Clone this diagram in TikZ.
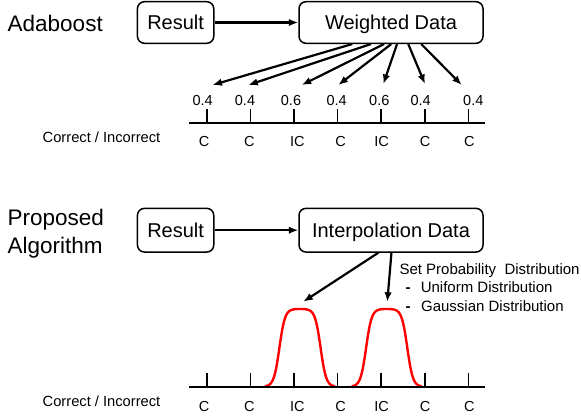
\documentclass[tikz,border=0pt]{standalone}
\usepackage{fontspec}
\setmainfont{Liberation Sans}
\usetikzlibrary{arrows.meta,calc}
\begin{document}
\begin{tikzpicture}[x=1pt,y=-1pt,
  box/.style={draw, line width=1.5pt, rounded corners=7pt, inner sep=0pt,
    font=\fontsize{20}{24}\selectfont, text height=14.3pt, text depth=0pt},
  arr/.style={line width=2.2pt, -{Latex[length=9.5pt,width=7.5pt]}},
  big/.style={font=\fontsize{22.5}{27}\selectfont, anchor=base west, inner sep=0pt},
  small/.style={font=\fontsize{14.5}{17}\selectfont, anchor=base, inner sep=0pt},
  lbl/.style={font=\fontsize{14.7}{17}\selectfont, anchor=base west, inner sep=0pt},
  dist/.style={font=\fontsize{15}{18}\selectfont, anchor=base west, inner sep=0pt},
  axisline/.style={line width=2pt},
  tickline/.style={line width=1.6pt},
  curve/.style={draw=red, line width=2.4pt}
]
\useasboundingbox (0,0) rectangle (581,418);

% ---------- Adaboost ----------
\node[big] (ada) at (7.5,31) {Adaboost};
\node[box, minimum width=76.3pt, minimum height=41.6pt] (r1) at (175.6,22.5) {Result};
\node[box, minimum width=184pt, minimum height=41.6pt] (w1) at (391,22.5) {Weighted Data};
\draw[arr] (r1) -- (w1);

\foreach \i/\vx/\v in {1/202.7/0.4, 2/245/0.4, 3/291/0.6, 4/336.7/0.4, 5/379.3/0.6, 6/420.7/0.4, 7/473.3/0.4}
  \node[small] (v\i) at (\vx,105) {\v};

\foreach \i/\sx/\tx/\ty in {1/54/212.5/85, 2/72.7/248.3/85, 3/85.8/301.7/85, 4/93/338.3/85, 5/98.8/383.3/84, 6/110/425/84, 7/123/461.7/85}{
  \coordinate (t\i) at (\tx,\ty);
  \draw[arr] ($(w1.south west)+(\sx,0)$) -- (t\i);
}

\draw[axisline] (189.3,123.3) -- (485,123.3);
\foreach \x in {206.7,250.3,294,337.6,381.2,424.8,468.4}
  \draw[tickline] (\x,109.3) -- (\x,123.3);

\foreach \i/\cx/\c in {1/204/C, 2/249.3/C, 3/297.3/IC, 4/340.7/C, 5/381.7/IC, 6/425/C, 7/469.3/C}
  \node[small] (c\i) at (\cx,146) {\c};
\node[lbl] (ci1) at (42.5,142.5) {Correct / Incorrect};

% ---------- Proposed ----------
\node[big] (prop) at (7.5,225.7) {Proposed};
\node[big] (algo) at (7.5,253.3) {Algorithm};
\node[box, minimum width=76.3pt, minimum height=43.7pt] (r2) at (175.6,230.2) {Result};
\node[box, minimum width=184pt, minimum height=43.7pt] (i2) at (391,230.2) {Interpolation Data};
\draw[arr] (r2) -- (i2);

\coordinate (p1) at (303.3,301.7);
\coordinate (p2) at (387.3,301.7);
\draw[arr] ($(i2.south west)+(80,0)$) -- (p1);
\draw[arr] ($(i2.south west)+(93.2,0)$) -- (p2);

\node[dist] (spd) at (399.3,274.3) {Set Probability~ Distribution};
\node[dist] (d1) at (405.3,292.3) {\textbf{-}};
\node[dist] (ud) at (420.6,292.3) {Uniform Distribution};
\node[dist] (d2) at (405.3,311) {\textbf{-}};
\node[dist] (gd) at (420.9,311) {Gaussian Distribution};

\foreach \c in {300,386.7}
  \draw[curve] plot[domain=-35:35, samples=121, smooth]
    ({\c+\x}, {386.7-77.8/(1+exp((abs(\x)-20.6)/2.8))});

\draw[axisline] (189.3,387.3) -- (485,387.3);
\foreach \x in {206.7,250.3,294,337.6,381.2,424.8,468.4}
  \draw[tickline] (\x,372.7) -- (\x,387.3);

\foreach \i/\cx/\c in {1/204/C, 2/249.3/C, 3/297.3/IC, 4/340.7/C, 5/381.7/IC, 6/425/C, 7/469.3/C}
  \node[small] (e\i) at (\cx,411.7) {\c};
\node[lbl] (ci2) at (42.5,406) {Correct / Incorrect};
\end{tikzpicture}
\end{document}
